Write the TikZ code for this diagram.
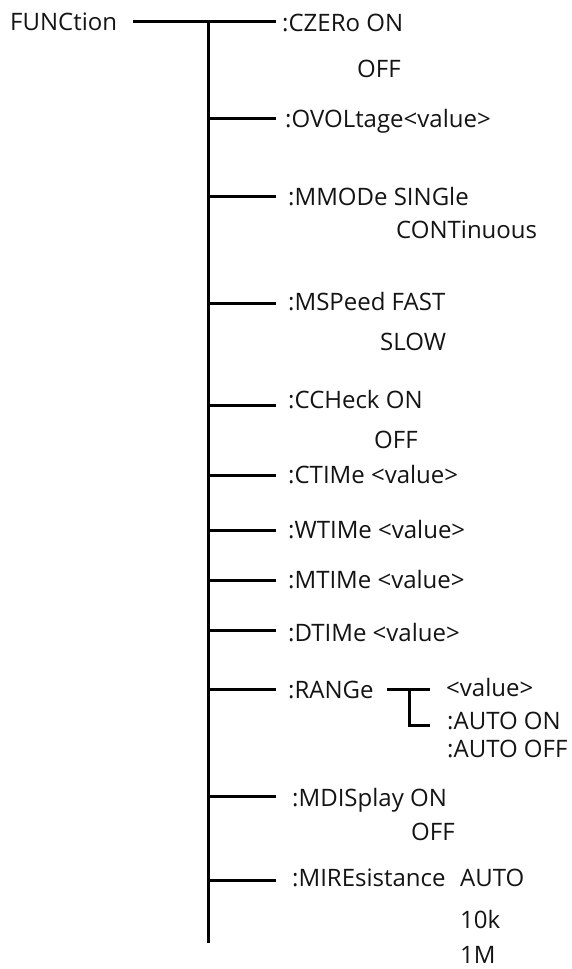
\documentclass[tikz,border=0pt]{standalone}
\usepackage{fontspec}
\setmainfont{Open Sans}
\begin{document}
\begin{tikzpicture}[x=1pt,y=-1pt,
  lbl/.style={anchor=base west,inner sep=0pt,font=\fontsize{24}{28}\selectfont,text=black!92},
  wire/.style={line width=3pt,black}]
\useasboundingbox[fill=white] (0,0) rectangle (571,969);
% labels (x = left edge, y = baseline)
\node[lbl] (fn)   at (10,30.5)  {FUNCtion};
\node[lbl] (cz)   at (282,31)   {:CZERo ON};
\node[lbl] (czo)  at (357,77.5) {OFF};
\node[lbl] (ov)   at (285,127)  {:OVOLtage<value>};
\node[lbl] (mm)   at (288,205)  {:MMODe SINGle};
\node[lbl] (mmc)  at (396,238)  {CONTinuous};
\node[lbl] (ms)   at (288,310.5){:MSPeed FAST};
\node[lbl] (mss)  at (380,350.5){SLOW};
\node[lbl] (cc)   at (288,408.5){:CCHeck ON};
\node[lbl] (cco)  at (374,448.5){OFF};
\node[lbl] (ct)   at (288,483.5){:CTIMe <value>};
\node[lbl] (wt)   at (288,538.5){:WTIMe <value>};
\node[lbl] (mt)   at (288,588.5){:MTIMe <value>};
\node[lbl] (dt)   at (288,641)  {:DTIMe <value>};
\node[lbl] (rg)   at (288,698.5){:RANGe};
\node[lbl] (rgv)  at (446,696.5){<value>};
\node[lbl] (rga)  at (447,729.5){:AUTO ON};
\node[lbl] (rgb)  at (447,757)  {:AUTO OFF};
\node[lbl] (md)   at (292,806.5){:MDISplay ON};
\node[lbl] (mdo)  at (411,840.5){OFF};
\node[lbl] (mr)   at (292,886.5){:MIREsistance};
\node[lbl] (mra)  at (460,886.5){AUTO};
\node[lbl] (mrb)  at (460,928.5){10k};
\node[lbl] (mrc)  at (460,963.5){1M};
% trunk and branch coordinates
\coordinate (top) at (208,21.7);
\coordinate (bot) at (208,942.7);
\coordinate (fnL) at (133,21.7);
\coordinate (czE) at (276,21.7);
\coordinate (j1) at (208,118.3)  ; \coordinate (e1) at (276,118.3);
\coordinate (j2) at (208,196.7)  ; \coordinate (e2) at (276,196.7);
\coordinate (j3) at (208,303.3)  ; \coordinate (e3) at (276,303.3);
\coordinate (j4) at (208,405)    ; \coordinate (e4) at (276,405);
\coordinate (j5) at (208,475)    ; \coordinate (e5) at (276,475);
\coordinate (j6) at (208,530.7)  ; \coordinate (e6) at (276,530.7);
\coordinate (j7) at (208,580)    ; \coordinate (e7) at (276,580);
\coordinate (j8) at (208,630.7)  ; \coordinate (e8) at (276,630.7);
\coordinate (j9) at (208,689.3)  ; \coordinate (e9) at (276,689.3);
\coordinate (j10) at (208,796.7) ; \coordinate (e10) at (276,796.7);
\coordinate (j11) at (208,880.7) ; \coordinate (e11) at (276,880.7);
% range sub-bracket
\coordinate (rs) at (387,689.3);
\coordinate (re) at (430,689.3);
\coordinate (rm) at (409.3,689.3);
\coordinate (rb) at (409.3,725);
\coordinate (rbe) at (430,725);
\draw[wire] (fnL) -- (czE);
\draw[wire] (top) -- (bot);
\foreach \i in {1,...,11} \draw[wire] (j\i) -- (e\i);
\draw[wire] (rs) -- (re);
\draw[wire,line join=miter] (rm) -- (rb) -- (rbe);
\end{tikzpicture}
\end{document}
